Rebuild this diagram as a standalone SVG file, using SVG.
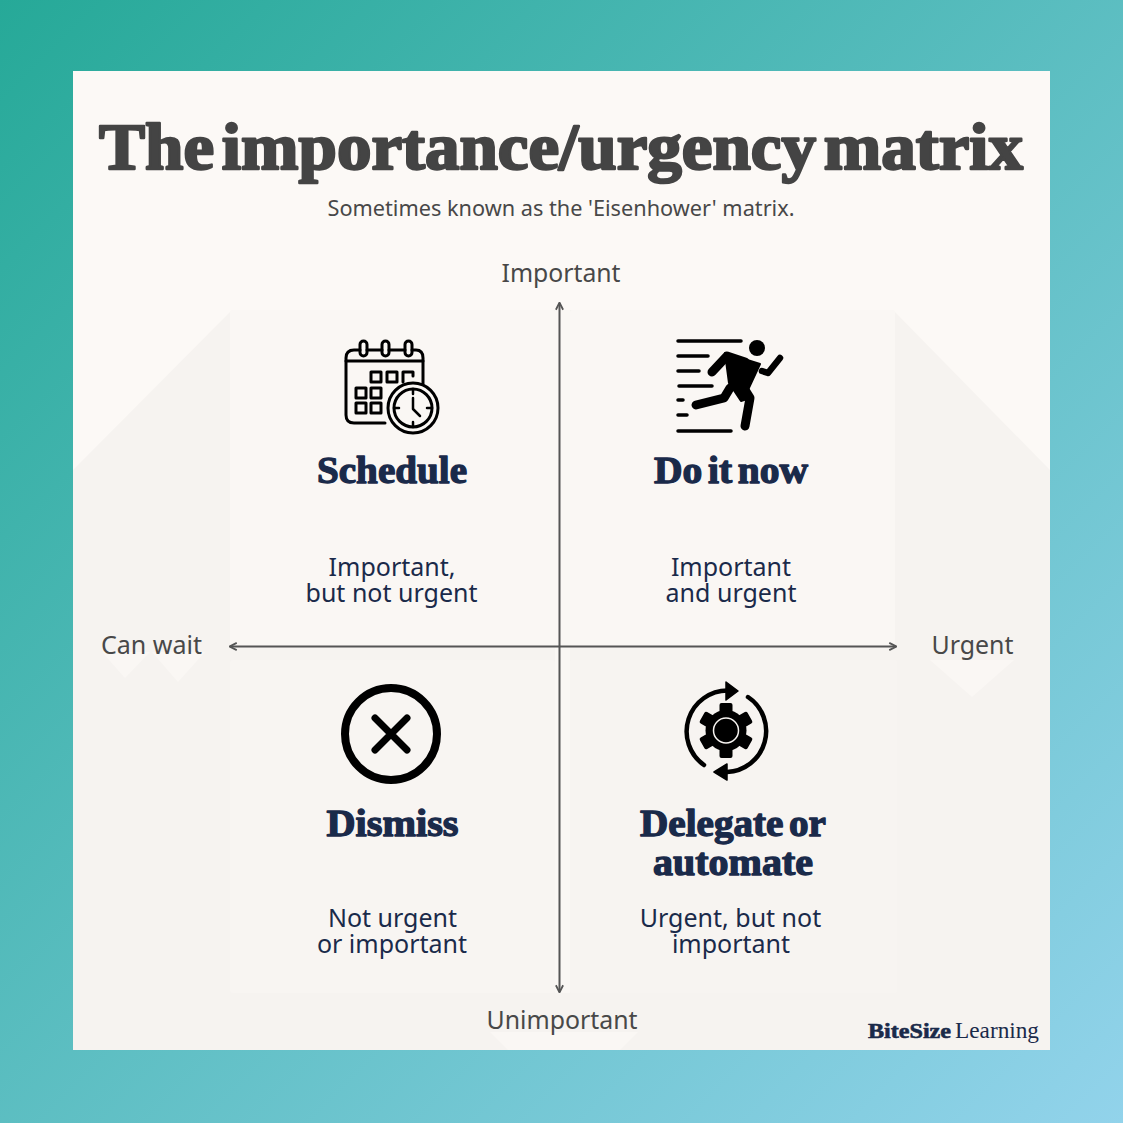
<svg xmlns="http://www.w3.org/2000/svg" width="1123" height="1123" viewBox="0 0 1123 1123">
<style>
.serif{font-family:"Liberation Serif","DejaVu Serif",serif;font-weight:700;stroke-linejoin:round}
.h{font-size:37px;fill:#1a2a4a;stroke:#1a2a4a;stroke-width:1.3px;text-anchor:middle;word-spacing:-4px}
.b{font-family:"Noto Sans","Open Sans",sans-serif;font-size:25px;text-anchor:middle}
.d{fill:#1a2a4a}
.ax{fill:#484848}
.i{fill:none;stroke:#000;stroke-linecap:round;stroke-linejoin:round}
.q{fill:#f6f3f0}
.ql{fill:#faf7f4}
.line{stroke:#555;stroke-width:2;fill:none}
</style>
<defs>
<linearGradient id="bg" x1="0" y1="0" x2="1" y2="1">
<stop offset="0" stop-color="#26a998"/><stop offset="1" stop-color="#92d3eb"/>
</linearGradient>
<marker id="ah" viewBox="0 0 10 10" refX="8.5" refY="5" markerWidth="9" markerHeight="9" markerUnits="userSpaceOnUse" orient="auto-start-reverse">
<path d="M1 1L9 5L1 9" fill="none" stroke="#555" stroke-width="2"/>
</marker>
</defs>
<rect width="1123" height="1123" fill="url(#bg)"/>
<rect x="73" y="71" width="977" height="979" fill="#fcf9f6"/>
<path class="q" d="M73 470L232 310H893L1050 470V1050H73Z"/>
<rect class="ql" x="230" y="310" width="325" height="336" rx="3"/>
<rect class="ql" x="570" y="310" width="325" height="336" rx="3"/>
<rect class="ql" x="555" y="310" width="15" height="683"/>
<rect x="230" y="660" width="325" height="333" rx="3" fill="#f8f5f2"/>
<rect x="570" y="660" width="327" height="333" rx="3" fill="#f7f4f1"/>
<path class="ql" d="M102 652L125 678L150 652Z M152 652L178 682L205 652Z M930 660L972 697L1014 660Z M490 1032H638L620 1050H508Z"/>
<g id="title">
<text class="serif" x="561" y="169" font-size="66" fill="#444" stroke="#444" stroke-width="2.4" text-anchor="middle" word-spacing="-9" textLength="924" lengthAdjust="spacingAndGlyphs">The importance/urgency matrix</text>
<text class="b" x="561" y="216" style="font-size:22px" fill="#484848" textLength="467" lengthAdjust="spacingAndGlyphs">Sometimes known as the 'Eisenhower' matrix.</text>
</g>
<g id="connectors">
<line class="line" x1="559.500" y1="303" x2="559.500" y2="992" marker-start="url(#ah)" marker-end="url(#ah)"/>
<line class="line" x1="230" y1="646.500" x2="896" y2="646.500" marker-start="url(#ah)" marker-end="url(#ah)"/>
</g>
<g id="axis-important"><text class="b ax" x="561" y="282" textLength="119" lengthAdjust="spacingAndGlyphs">Important</text></g>
<g id="axis-unimportant"><text class="b ax" x="562" y="1029" textLength="151" lengthAdjust="spacingAndGlyphs">Unimportant</text></g>
<g id="axis-can-wait"><text class="b ax" x="151.500" y="654" textLength="101" lengthAdjust="spacingAndGlyphs">Can wait</text></g>
<g id="axis-urgent"><text class="b ax" x="972.500" y="654" textLength="82" lengthAdjust="spacingAndGlyphs">Urgent</text></g>

<g id="schedule">
<g class="i" stroke-width="3">
<path d="M385 423H354Q346 423 346 415V358Q346 350 354 350H360M367 350H382M389 350H405M412 350H416Q423 350 423 358V384"/>
<path d="M346 361H423"/>
<rect x="360" y="341" width="7" height="15" rx="3.500"/><rect x="382" y="341" width="7" height="15" rx="3.500"/><rect x="405" y="341" width="7" height="15" rx="3.500"/>
<rect x="371" y="372" width="10" height="10"/><rect x="387" y="372" width="10" height="10"/><path d="M403 382V372H413V376"/>
<rect x="356" y="388" width="10" height="10"/><rect x="371" y="388" width="10" height="10"/>
<rect x="356" y="403" width="10" height="10"/><rect x="371" y="403" width="10" height="10"/>
<circle cx="413" cy="408" r="25"/><circle cx="413" cy="408" r="19"/>
<path d="M413 389V394M413 422V427M394 408H399M427 408H432M413 398V409L420 416" stroke-width="2.500"/>
</g>
<text class="serif h" x="392" y="483" textLength="150" lengthAdjust="spacingAndGlyphs">Schedule</text>
<text class="b d" y="576"><tspan x="392">Important,</tspan><tspan x="391.500" y="602">but not urgent</tspan></text>
</g>

<g id="do-it-now">
<path class="i" stroke-width="3.500" d="M678 341H741M678 356H708M678 371H699M679 386H712M678 400H683M678 415H687M678 431H731"/>
<circle cx="757" cy="348" r="8"/>
<path class="i" stroke-width="9" d="M712 372L727 356L745 362"/>
<path d="M725 353L760 364L747 392L750 398L741 401L729 383Z" stroke="#000" stroke-width="2" stroke-linejoin="round"/>
<path class="i" stroke-width="9" d="M696 405L724 398L730 388"/>
<path class="i" stroke-width="9" d="M745 390L750 398L745 426"/>
<path class="i" stroke-width="6.500" d="M762 371L768 373L780 358"/>
<text class="serif h" x="731" y="483" textLength="154" lengthAdjust="spacingAndGlyphs">Do it now</text>
<text class="b d" y="576"><tspan x="731">Important</tspan><tspan x="731" y="602">and urgent</tspan></text>
</g>

<g id="dismiss">
<circle cx="391" cy="734" r="46" fill="none" stroke="#000" stroke-width="8"/>
<path class="i" stroke-width="7" d="M375 718L407 750M407 718L375 750"/>
<text class="serif h" x="392.500" y="836" textLength="132" lengthAdjust="spacingAndGlyphs">Dismiss</text>
<text class="b d" y="927"><tspan x="392.500">Not urgent</tspan><tspan x="392" y="953">or important</tspan></text>
</g>

<g id="delegate">
<path class="i" stroke-width="4.500" d="M704 765A41 41 0 0 1 728 690.500M748 697A41 41 0 0 1 727 772"/>
<path d="M726 682L738 691L726 700Z M727 764L714 772L727 780Z" stroke="#000" stroke-width="1.500" stroke-linejoin="round"/>
<circle cx="726" cy="730.500" r="20.500"/>
<g fill="#000"><rect x="719.500" y="703" width="13" height="55" rx="2"/>
<rect x="719.500" y="703" width="13" height="55" rx="2" transform="rotate(60 726 730.500)"/>
<rect x="719.500" y="703" width="13" height="55" rx="2" transform="rotate(120 726 730.500)"/></g>
<circle cx="726" cy="730.500" r="12.500" fill="#000" stroke="#f7f4f1" stroke-width="1.500"/>
<text class="serif h" x="733" y="836" textLength="186" lengthAdjust="spacingAndGlyphs">Delegate or</text>
<text class="serif h" x="733" y="875" textLength="160" lengthAdjust="spacingAndGlyphs">automate</text>
<text class="b d" y="927"><tspan x="730.500">Urgent, but not</tspan><tspan x="731" y="953">important</tspan></text>
</g>

<g id="brand">
<text class="serif d" x="868" y="1038" font-size="22" stroke="#1a2a4a" stroke-width=".6" textLength="83" lengthAdjust="spacingAndGlyphs">BiteSize</text>
<text x="955" y="1038" font-family="Liberation Serif,serif" font-size="23" fill="#1a2a4a" textLength="84" lengthAdjust="spacingAndGlyphs">Learning</text>
</g>
</svg>
